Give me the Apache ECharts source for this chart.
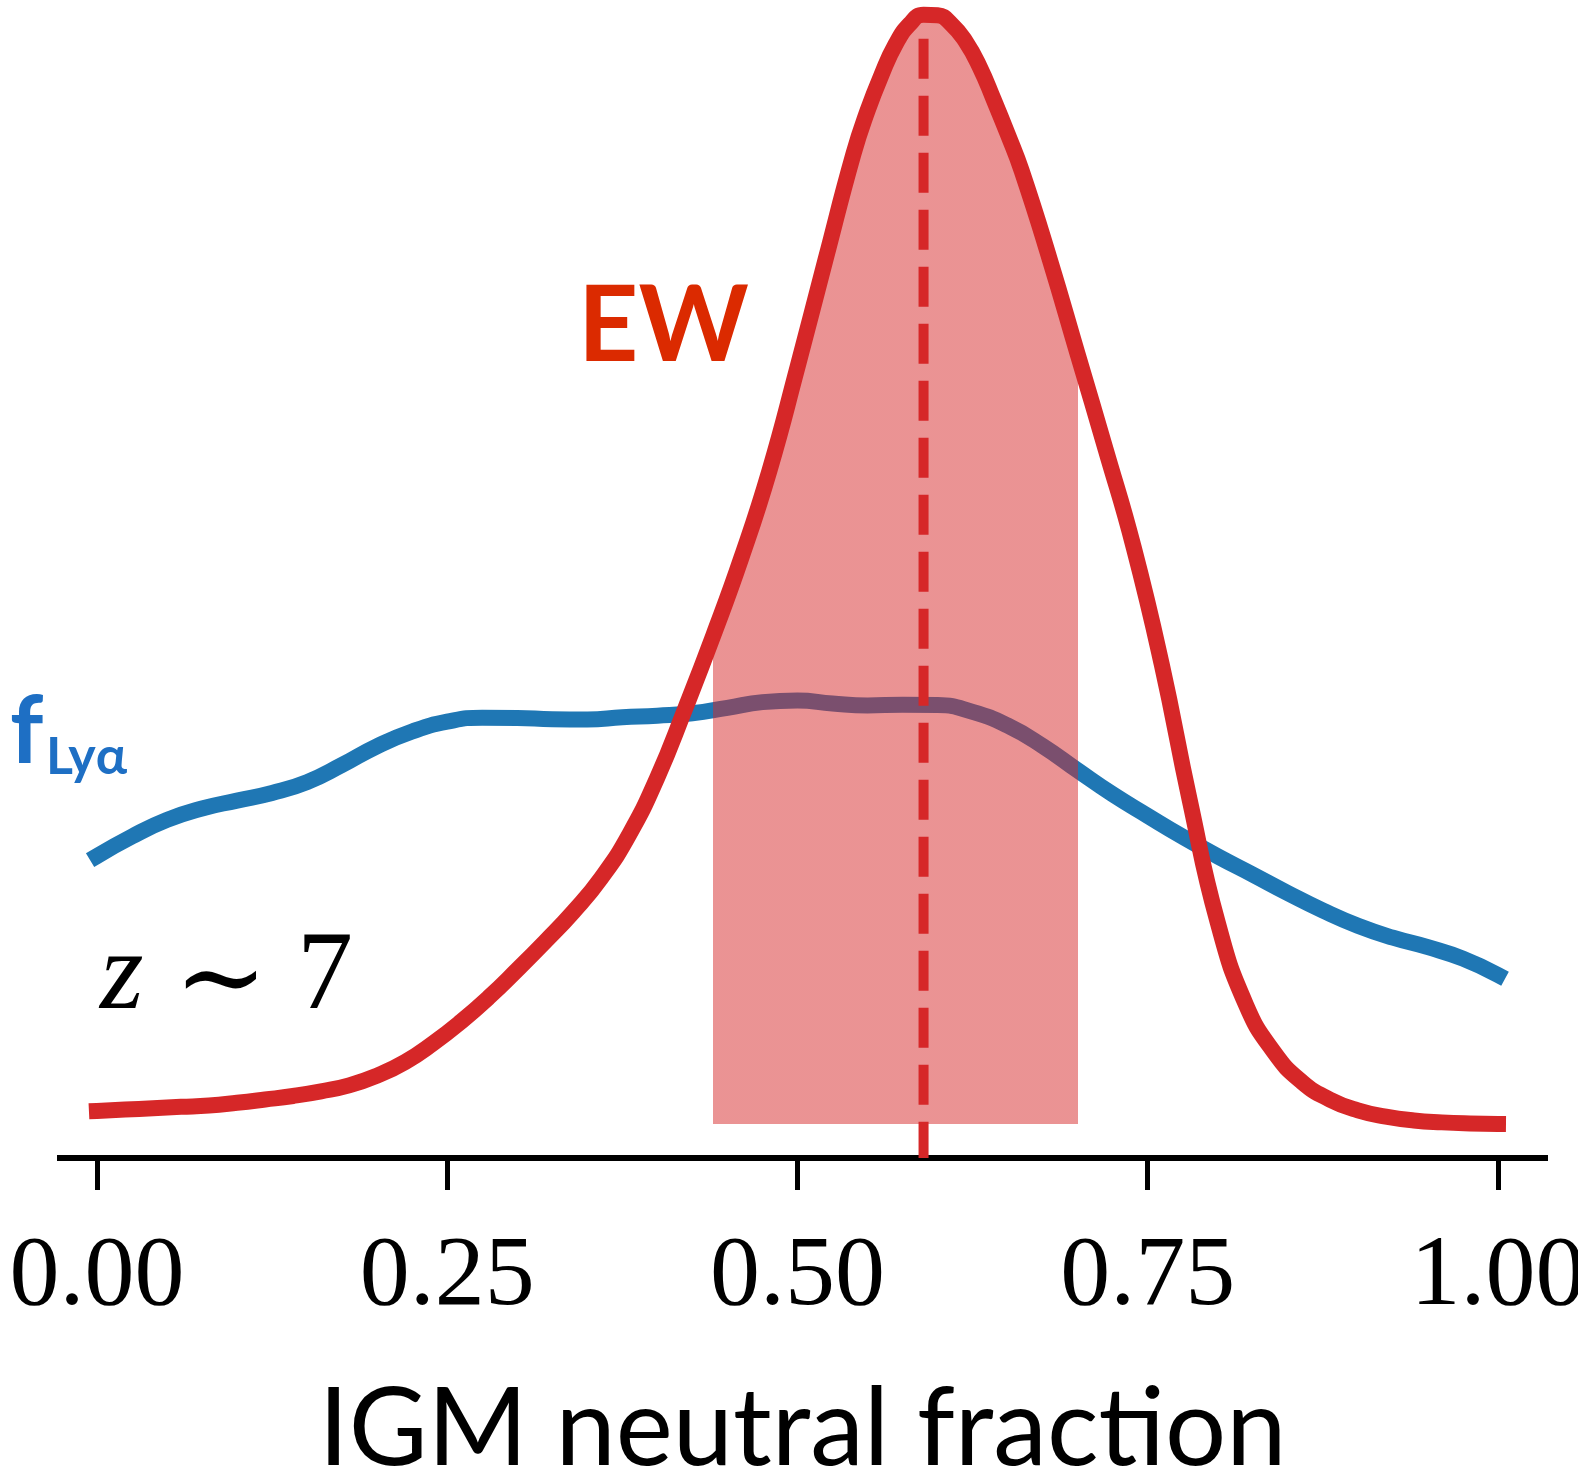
<!DOCTYPE html>
<html>
<head>
<meta charset="utf-8">
<title>IGM neutral fraction</title>
<script src="https://cdn.jsdelivr.net/npm/echarts@6/dist/echarts.min.js"></script>
<style>
  html, body { margin: 0; padding: 0; background: #ffffff; }
  #chart { width: 1578px; height: 1476px; }
</style>
</head>
<body>
<div id="chart"></div>
<script>
// Posterior of the IGM neutral fraction from the Lyα equivalent-width (EW) test
const ewX = [0.00, 0.02, 0.04, 0.06, 0.08, 0.10, 0.12, 0.14, 0.16, 0.18,
             0.20, 0.22, 0.24, 0.26, 0.28, 0.30, 0.32, 0.34, 0.36, 0.38,
             0.40, 0.42, 0.44, 0.46, 0.48, 0.50, 0.52, 0.54, 0.55, 0.56,
             0.57, 0.58, 0.59, 0.60, 0.61, 0.62, 0.63, 0.64, 0.65, 0.66,
             0.68, 0.70, 0.72, 0.74, 0.76, 0.78, 0.80, 0.82, 0.84, 0.86,
             0.88, 0.90, 0.92, 0.94, 0.96, 0.98, 1.00];
const ewDensity = [0.048, 0.053, 0.058, 0.063, 0.068, 0.078, 0.090, 0.103, 0.120, 0.142,
                   0.178, 0.228, 0.297, 0.377, 0.467, 0.567, 0.671, 0.780, 0.905, 1.065,
                   1.274, 1.529, 1.797, 2.082, 2.402, 2.782, 3.177, 3.567, 3.725, 3.857,
                   3.969, 4.043, 4.078, 4.076, 4.043, 3.980, 3.887, 3.767, 3.640, 3.505,
                   3.180, 2.830, 2.480, 2.120, 1.690, 1.190, 0.740, 0.440, 0.265, 0.155,
                   0.090, 0.050, 0.027, 0.013, 0.006, 0.002, 0.000];

// Posterior from the Lyα fraction (f_Lyα) test
const flyaX = [0.000, 0.025, 0.050, 0.075, 0.100, 0.125, 0.150, 0.175, 0.200, 0.225,
               0.250, 0.275, 0.300, 0.325, 0.350, 0.375, 0.400, 0.425, 0.450, 0.475,
               0.500, 0.525, 0.550, 0.575, 0.600, 0.625, 0.650, 0.675, 0.700, 0.725,
               0.750, 0.775, 0.800, 0.825, 0.850, 0.875, 0.900, 0.925, 0.950, 0.975,
               1.000];
const flyaDensity = [0.985, 1.057, 1.118, 1.160, 1.189, 1.217, 1.257, 1.320, 1.389, 1.443,
                     1.479, 1.494, 1.493, 1.488, 1.487, 1.495, 1.501, 1.510, 1.530, 1.551,
                     1.557, 1.546, 1.539, 1.541, 1.540, 1.515, 1.465, 1.390, 1.300, 1.212,
                     1.133, 1.056, 0.984, 0.917, 0.849, 0.785, 0.729, 0.685, 0.650, 0.608,
                     0.548];

// EW median and 68% credible interval
const ewMedian = 0.59;
const ewMedianTop = 3.99;
const ewIntervalLow = 0.44;
const ewIntervalHigh = 0.70;

// Axis ticks
const tickValues = [0, 0.25, 0.5, 0.75, 1];
const tickLabels = ['0.00', '0.25', '0.50', '0.75', '1.00'];

const yFloor = -0.125;
const yCeil = 4.125;

const RED = '#d62728';
const BLUE = '#1f77b4';
const LABEL_BLUE = '#1e6fc4';

const pairs = (xs, ys) => xs.map((x, i) => [x, ys[i]]);

const chart = echarts.init(document.getElementById('chart'), null, { renderer: 'canvas' });

function label(text, x, y, font, fill, align) {
  return {
    type: 'text', x: x, y: y, z: 10,
    style: {
      text: text, fill: fill, font: font,
      align: align || 'left', verticalAlign: 'middle',
      textAlign: align || 'left', textVerticalAlign: 'middle'
    }
  };
}

const MATH_FONT = '"Liberation Serif", "DejaVu Serif", serif';

chart.setOption({
  backgroundColor: '#ffffff',
  animation: false,
  grid: {
    left: 57, top: 2, width: 1491, height: 1156,
    containLabel: false, outerBoundsMode: 'none'
  },
  xAxis: {
    type: 'value',
    min: -0.0285,
    max: 1.0357,
    splitLine: { show: false },
    axisLine: { show: true, onZero: false, lineStyle: { color: '#000000', width: 6, cap: 'butt' } },
    axisTick: {
      show: true, inside: false, length: 32,
      customValues: tickValues,
      lineStyle: { color: '#000000', width: 5 }
    },
    axisLabel: {
      show: true,
      customValues: tickValues,
      margin: 70,
      color: '#000000',
      fontFamily: MATH_FONT,
      fontSize: 100,
      lineHeight: 100,
      hideOverlap: false,
      formatter: function (v) {
        const i = tickValues.findIndex(t => Math.abs(t - v) < 1e-9);
        return i >= 0 ? tickLabels[i] : '';
      }
    },
    name: 'IGM neutral fraction',
    nameLocation: 'middle',
    nameGap: 218,
    nameMoveOverlap: false,
    nameTextStyle: {
      color: '#000000',
      fontFamily: 'Lato, "Noto Sans", sans-serif',
      fontSize: 108,
      lineHeight: 108
    }
  },
  yAxis: {
    type: 'value',
    min: yFloor,
    max: yCeil,
    show: false,
    splitLine: { show: false }
  },
  visualMap: {
    type: 'piecewise',
    show: false,
    dimension: 0,
    seriesIndex: 1,
    pieces: [
      { lt: ewIntervalLow, color: 'rgba(214,39,40,0)' },
      { gte: ewIntervalLow, lte: ewIntervalHigh, color: RED },
      { gt: ewIntervalHigh, color: 'rgba(214,39,40,0)' }
    ],
    outOfRange: { color: 'rgba(214,39,40,0)' }
  },
  series: [
    {
      name: 'f_Lya',
      type: 'line',
      data: pairs(flyaX, flyaDensity),
      smooth: 0.5,
      showSymbol: false,
      symbol: 'none',
      clip: false,
      lineStyle: { color: BLUE, width: 16, cap: 'square', join: 'round' },
      z: 2
    },
    {
      name: 'EW',
      type: 'line',
      data: pairs(ewX, ewDensity),
      smooth: 0.5,
      showSymbol: false,
      symbol: 'none',
      clip: false,
      lineStyle: { color: RED, width: 16, cap: 'square', join: 'round' },
      areaStyle: { opacity: 0.5, origin: 0 },
      z: 3
    },
    {
      name: 'EW median',
      type: 'line',
      data: [[ewMedian, ewMedianTop], [ewMedian, yFloor]],
      showSymbol: false,
      symbol: 'none',
      clip: false,
      lineStyle: { color: RED, width: 10, type: [40, 17], cap: 'butt' },
      z: 4
    }
  ],
  graphic: [
    label('EW', 578, 327, 'bold 105px Lato, "Noto Sans", sans-serif', '#db2a00'),
    label('f', 10, 733, 'bold 93px Lato, "Noto Sans", sans-serif', LABEL_BLUE),
    label('Lyα', 46, 757, 'bold 52px Lato, "Noto Sans", sans-serif', LABEL_BLUE),
    label('z', 100, 979, 'italic 112px ' + MATH_FONT, '#000000'),
    label('∼', 221, 986, '112px ' + MATH_FONT, '#000000', 'center'),
    label('7', 297, 979, '112px ' + MATH_FONT, '#000000')
  ]
});
</script>
</body>
</html>
